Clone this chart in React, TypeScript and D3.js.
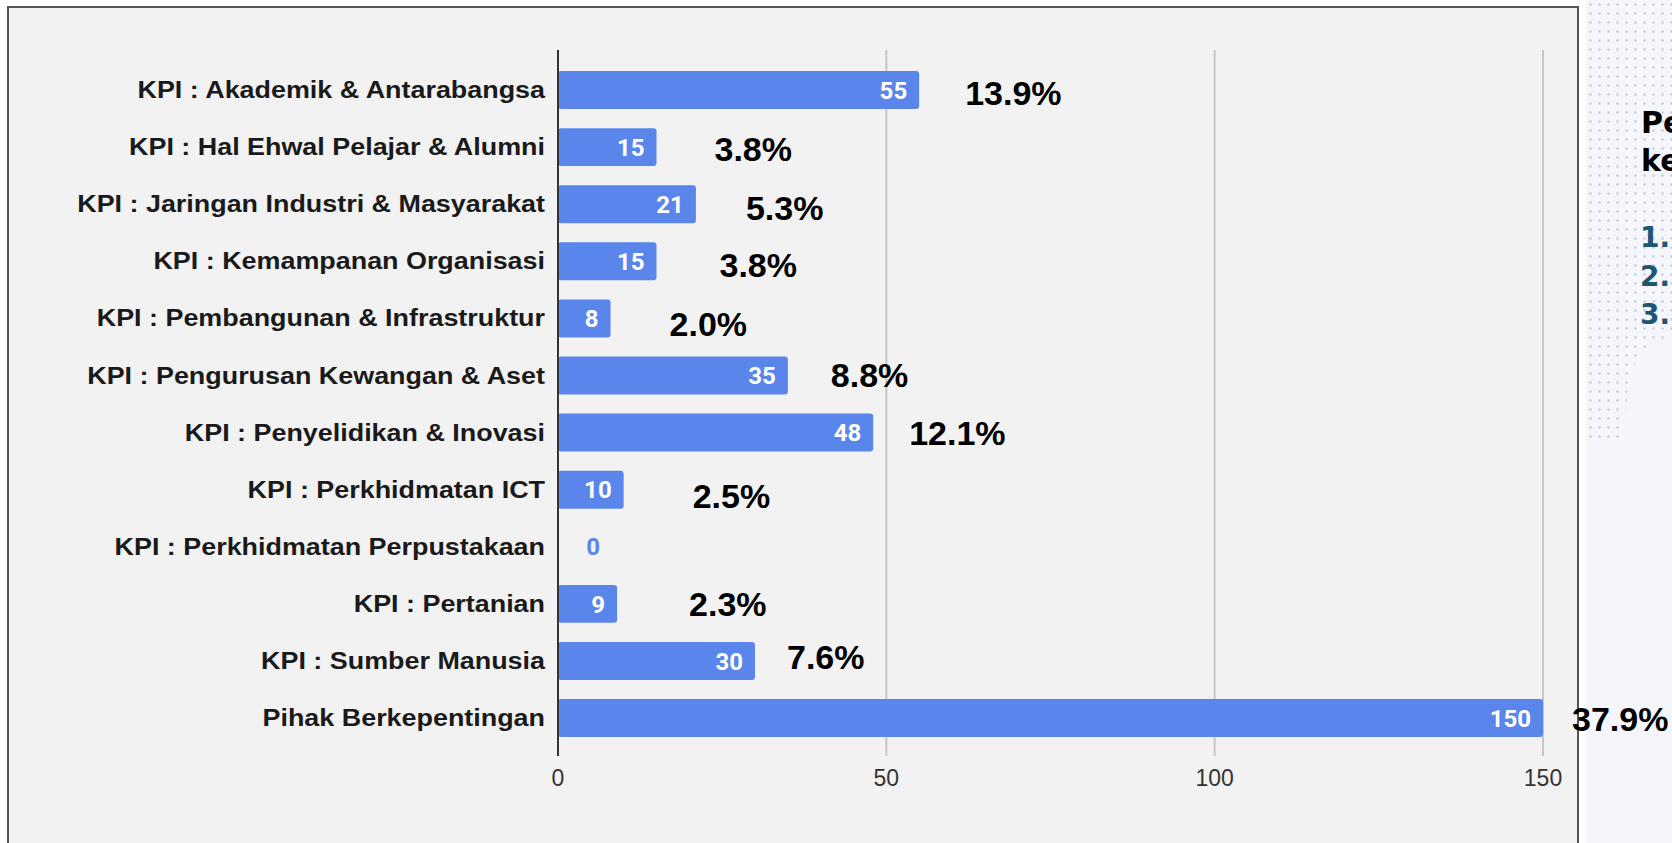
import React from "react";
import * as d3 from "d3";

const categories = [
  "KPI : Akademik & Antarabangsa",
  "KPI : Hal Ehwal Pelajar & Alumni",
  "KPI : Jaringan Industri & Masyarakat",
  "KPI : Kemampanan Organisasi",
  "KPI : Pembangunan & Infrastruktur",
  "KPI : Pengurusan Kewangan & Aset",
  "KPI : Penyelidikan & Inovasi",
  "KPI : Perkhidmatan ICT",
  "KPI : Perkhidmatan Perpustakaan",
  "KPI : Pertanian",
  "KPI : Sumber Manusia",
  "Pihak Berkepentingan",
];
const values = [55, 15, 21, 15, 8, 35, 48, 10, 0, 9, 30, 150];
const percents = ["13.9%", "3.8%", "5.3%", "3.8%", "2.0%", "8.8%", "12.1%", "2.5%", "", "2.3%", "7.6%", "37.9%"];
const xTicks = [0, 50, 100, 150];
const sideHeading = ["Pe", "ke"];
const sideList = ["1.", "2.", "3."];

// manual nudges of the overlaid percentage text boxes (layout only)
const pctGap = [46, 58, 50, 63, 59, 43, 36, 69, 0, 72, 32, 29];
const pctDy = [3, 2, 4, 3, 5, -1, 0, 6, 0, 0, -4, 1];

const W = 1672;
const H = 843;

export default function App() {
  const x = d3.scaleLinear().domain([0, 150]).range([558, 1543]);
  const y = d3
    .scaleBand<string>()
    .domain(categories)
    .range([61.5, 746.6])
    .paddingInner(0.335)
    .paddingOuter(0.1675);
  const bw = y.bandwidth();
  const barColor = "#5a86ec";

  const dotClip = "M1586,0 L1672,0 L1672,335 L1645,350 L1630,372 L1622,440 L1586,440 Z";

  return (
    <svg width={W} height={H} style={{ position: "absolute", left: 0, top: 0, background: "#fff" }}>
      <defs>
        <pattern id="dots" x={1586} y={0} width={9} height={9} patternUnits="userSpaceOnUse">
          <circle cx={4.5} cy={4.5} r={1.3} fill="#c9cdd8" />
        </pattern>
        <clipPath id="dotclip">
          <path d={dotClip} />
        </clipPath>
      </defs>
      {/* chart frame */}
      <rect x={8} y={7} width={1570} height={900} fill="#f2f2f2" stroke="#555" strokeWidth={2} />

      {/* right side panel */}
      <rect x={1586} y={0} width={86} height={H} fill="#f4f6fb" />
      <rect x={1586} y={0} width={86} height={440} fill="url(#dots)" clipPath="url(#dotclip)" />
      <g fontFamily="'DejaVu Sans', Verdana, sans-serif" fontWeight="bold">
        {sideHeading.map((t, i) => (
          <text key={t} x={1641} y={133 + i * 38} fontSize={30} fill="#000">
            {t}
          </text>
        ))}
        {sideList.map((t, i) => (
          <text key={t} x={1640} y={247 + i * 38.5} fontSize={28} fill="#1d5673">
            {t}
          </text>
        ))}
      </g>

      {/* gridlines */}
      {xTicks.slice(1).map((t) => (
        <line key={t} x1={x(t)} x2={x(t)} y1={50} y2={756} stroke="#c6c6c6" strokeWidth={2} />
      ))}

      {/* bars */}
      {categories.map((c, i) => {
        const v = values[i];
        const y0 = y(c)!;
        return (
          <g key={c}>
            {v > 0 && (
              <rect x={x(0)} y={y0} width={x(v) - x(0)} height={bw} rx={3} fill={barColor} />
            )}
            <text
              x={v > 0 ? x(v) - 12 : x(0) + 42}
              y={y0 + bw / 2}
              dy="0.36em"
              textAnchor="end"
              fontFamily="Roboto, 'Liberation Sans', Arial, sans-serif"
              fontWeight="bold"
              fontSize={24}
              fill={v > 0 ? "#ffffff" : barColor}
            >
              {v}
            </text>
            <g transform={`translate(545,${y0 + bw / 2}) scale(1.17,1)`}>
              <text
                x={0}
                y={0}
                dy="0.35em"
                textAnchor="end"
                fontFamily="'Liberation Sans', Arial, sans-serif"
                fontWeight="bold"
                fontSize={23}
                fill="#1a1a1a"
              >
                {c}
              </text>
            </g>
          </g>
        );
      })}

      {/* zero axis line */}
      <line x1={x(0)} x2={x(0)} y1={50} y2={756} stroke="#333" strokeWidth={2} />

      {/* tick labels */}
      {xTicks.map((t) => (
        <text
          key={t}
          x={x(t)}
          y={778}
          dy="0.35em"
          textAnchor="middle"
          fontFamily="'Liberation Sans', Arial, sans-serif"
          fontSize={23}
          fill="#333"
        >
          {t}
        </text>
      ))}

      {/* percentage labels */}
      {categories.map((c, i) =>
        percents[i] ? (
          <text
            key={"p" + c}
            x={x(values[i]) + pctGap[i]}
            y={y(c)! + bw / 2 + pctDy[i]}
            dy="0.36em"
            fontFamily="'Liberation Sans', Arial, sans-serif"
            fontWeight="bold"
            fontSize={34}
            fill="#000"
          >
            {percents[i]}
          </text>
        ) : null
      )}
    </svg>
  );
}
